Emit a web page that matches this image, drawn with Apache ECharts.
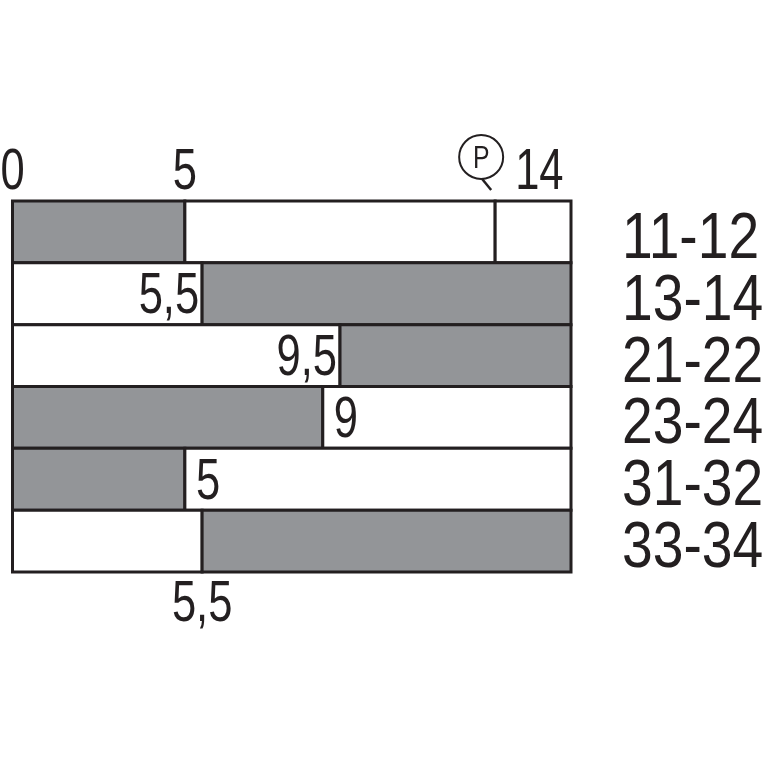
<!DOCTYPE html>
<html>
<head>
<meta charset="utf-8">
<script src="https://cdn.jsdelivr.net/npm/echarts@6/dist/echarts.min.js"></script>
<style>
html,body{margin:0;padding:0;background:#fff;}
#c{width:767px;height:767px;}
</style>
</head>
<body>
<div id="c"></div>
<script>
// ---- data ----
const contacts = ['11-12', '13-14', '21-22', '23-24', '31-32', '33-34'];
const switchPoints = [5, 5.5, 9.5, 9, 5, 5.5];
const closedAtStart = [true, false, false, true, true, false];
const switchLabels = ['', '5,5', '9,5', '9', '5', '5,5'];
const switchLabelSide = ['none', 'left', 'left', 'right', 'right', 'below'];
const pressPoint = 14;
const travelEnd = 16.2;
const topTicks = [0, 5, 14];
const topTickLabels = ['0', '5', '14'];

// ---- build segments ----
const segments = [];
contacts.forEach((c, i) => {
  const sp = switchPoints[i];
  const first = closedAtStart[i];
  segments.push([0, sp, i, first ? 1 : 0]);
  if (i === 0) {
    segments.push([sp, pressPoint, i, first ? 0 : 1]);
    segments.push([pressPoint, travelEnd, i, first ? 0 : 1]);
  } else {
    segments.push([sp, travelEnd, i, first ? 0 : 1]);
  }
});
const labelData = switchPoints.map((v, i) => [v, i, switchLabels[i], switchLabelSide[i]]);
const topData = topTicks.map((v, i) => [v, 0, topTickLabels[i]]);
const rowLabelData = contacts.map((c, i) => [travelEnd, i, c]);

const GRAY = '#939598';
const INK = '#231f20';
const FONT = '"Liberation Sans Narrow", "Liberation Sans", Arial, sans-serif';
const NUM_SIZE = 58;
const NUM_SCALE = 0.75;

function txt(x, y, text, align, size, sx) {
  return {
    type: 'text', x: x, y: y, scaleX: sx,
    style: {x: 0, y: 0, text: text, align: align, verticalAlign: 'middle',
            fill: INK, font: size + 'px ' + FONT}
  };
}

const chart = echarts.init(document.getElementById('c'), null, {renderer: 'canvas'});
chart.setOption({
  animation: false,
  backgroundColor: '#fff',
  grid: {left: 12.5, right: 196, top: 201, bottom: 195, containLabel: false, outerBoundsMode: 'none'},
  xAxis: {
    type: 'value', position: 'top', min: 0, max: travelEnd,
    axisLine: {show: false}, axisTick: {show: false}, splitLine: {show: false},
    axisLabel: {show: false}
  },
  yAxis: {
    type: 'category', data: contacts, inverse: true, position: 'right',
    axisLine: {show: false}, axisTick: {show: false}, splitLine: {show: false},
    axisLabel: {show: false}
  },
  series: [
    {
      type: 'custom',
      data: segments,
      encode: {x: [0, 1], y: 2},
      renderItem: (params, api) => {
        const a = api.coord([api.value(0), api.value(2)]);
        const b = api.coord([api.value(1), api.value(2)]);
        const h = api.size([0, 1])[1];
        return {
          type: 'rect',
          shape: {x: a[0], y: a[1] - h / 2, width: b[0] - a[0], height: h},
          style: {fill: api.value(3) ? GRAY : '#fff', stroke: INK, lineWidth: 3}
        };
      }
    },
    {
      // switch-point labels
      type: 'custom',
      data: labelData,
      encode: {x: 0, y: 1},
      z: 5,
      renderItem: (params, api) => {
        const i = params.dataIndex;
        const side = labelData[i][3];
        if (side === 'none') return null;
        const p = api.coord([api.value(0), api.value(1)]);
        const h = api.size([0, 1])[1];
        let x = p[0], y = p[1] + 3.5, align = 'left';
        if (side === 'left') { x = p[0] - 3; align = 'right'; }
        else if (side === 'right') { x = p[0] + 11; align = 'left'; }
        else if (side === 'below') { y = p[1] + h / 2 + 33; align = 'center'; }
        return txt(x, y, labelData[i][2], align, NUM_SIZE, NUM_SCALE);
      }
    },
    {
      // top scale labels
      type: 'custom',
      data: topData,
      encode: {x: 0, y: 1},
      z: 5,
      renderItem: (params, api) => {
        const i = params.dataIndex;
        const p = api.coord([api.value(0), api.value(1)]);
        const h = api.size([0, 1])[1];
        const top = p[1] - h / 2;
        const isPress = topData[i][0] === pressPoint;
        const x = isPress ? p[0] + 20 : p[0];
        return txt(x, top - 28.5, topData[i][2], isPress ? 'left' : 'center', NUM_SIZE, NUM_SCALE);
      }
    },
    {
      // contact names at right
      type: 'custom',
      data: rowLabelData,
      encode: {x: 0, y: 1},
      z: 5,
      renderItem: (params, api) => {
        const p = api.coord([api.value(0), api.value(1)]);
        return txt(p[0] + 51, p[1] + 8, rowLabelData[params.dataIndex][2], 'left', 65, 0.85);
      }
    },
    {
      // P (press) marker
      type: 'custom',
      data: [[pressPoint, 0]],
      encode: {x: 0, y: 1},
      z: 6,
      renderItem: (params, api) => {
        const p = api.coord([api.value(0), api.value(1)]);
        const h = api.size([0, 1])[1];
        const top = p[1] - h / 2;
        const cx = p[0] - 14, cy = top - 44, r = 22;
        return {
          type: 'group',
          children: [
            {type: 'circle', shape: {cx: cx, cy: cy, r: r},
             style: {fill: 'none', stroke: INK, lineWidth: 2}},
            {type: 'line', shape: {x1: cx + 1, y1: cy + r, x2: cx + 10, y2: cy + r + 11},
             style: {stroke: INK, lineWidth: 2.5}},
            {type: 'text', x: cx, y: cy + 2, scaleX: 0.8,
             style: {x: 0, y: 0, text: 'P', align: 'center', verticalAlign: 'middle',
                     fill: INK, font: '31px ' + FONT}}
          ]
        };
      }
    }
  ]
});
</script>
</body>
</html>
